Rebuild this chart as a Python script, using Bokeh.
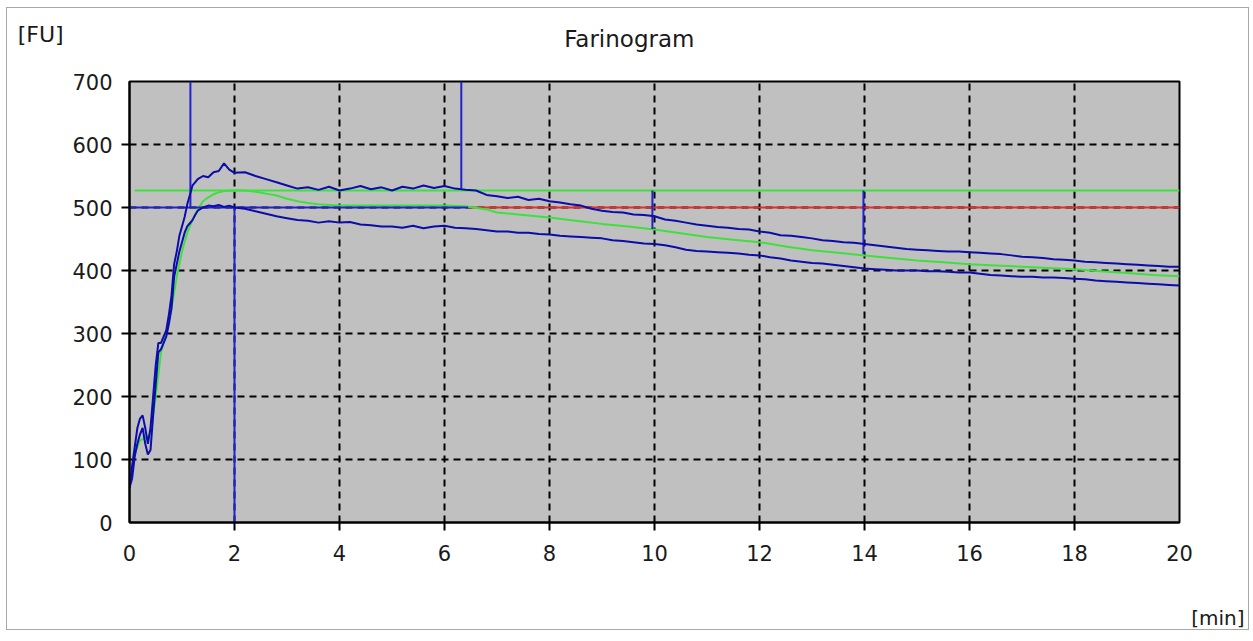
from bokeh.plotting import figure
from bokeh.models import FixedTicker, Range1d, Label
from bokeh.embed import file_html
from bokeh.resources import INLINE

# ---------------- data ----------------
x_ticks = [0, 2, 4, 6, 8, 10, 12, 14, 16, 18, 20]
x_inner = [2, 4, 6, 8, 10, 12, 14, 16, 18]
y_ticks = [0, 100, 200, 300, 400, 500, 600, 700]
y_inner = [100, 200, 300, 400, 500, 600]

rise_t = [0.0, 0.05, 0.1, 0.15, 0.2, 0.25, 0.3, 0.35, 0.4, 0.45, 0.5, 0.55, 0.6, 0.65,
          0.7, 0.75, 0.8, 0.85, 0.9, 0.95, 1.0, 1.05, 1.1, 1.15, 1.2, 1.25, 1.3, 1.4,
          1.5, 1.6, 1.7, 1.8, 1.9]
main_t = [2.0, 2.2, 2.4, 2.6, 2.8, 3.0, 3.2, 3.4, 3.6, 3.8, 4.0, 4.2, 4.4, 4.6, 4.8,
          5.0, 5.2, 5.4, 5.6, 5.8, 6.0, 6.2, 6.4, 6.6, 6.8, 7.0, 7.2, 7.4, 7.6, 7.8,
          8.0, 8.2, 8.4, 8.6, 8.8, 9.0, 9.2, 9.4, 9.6, 9.8, 10.0, 10.2, 10.4, 10.6, 10.8,
          11.0, 11.2, 11.4, 11.6, 11.8, 12.0, 12.2, 12.4, 12.6, 12.8, 13.0, 13.2, 13.4,
          13.6, 13.8, 14.0, 14.2, 14.4, 14.6, 14.8, 15.0, 15.2, 15.4, 15.6, 15.8, 16.0,
          16.2, 16.4, 16.6, 16.8, 17.0, 17.2, 17.4, 17.6, 17.8, 18.0, 18.2, 18.4, 18.6,
          18.8, 19.0, 19.2, 19.4, 19.6, 19.8, 20.0]
time_min = rise_t + main_t

upper_fu = [55, 90, 120, 150, 165, 170, 150, 125, 150, 200, 250, 285, 285, 295,
            305, 330, 360, 410, 430, 455, 470, 485, 505, 520, 535, 540, 545, 550,
            548, 556, 558, 570, 560,
            555, 556, 550, 545, 540, 535, 530, 532, 528, 533, 527, 530, 534, 529, 532,
            527, 533, 530, 535, 531, 534, 530, 528, 527, 520, 518, 515, 517, 512, 514,
            510, 508, 505, 503, 498, 495, 493, 492, 489, 488, 486, 481, 479, 476, 473,
            471, 469, 468, 466, 465, 462, 460, 456, 455, 453, 451, 448, 447,
            445, 444, 442, 440, 438, 436, 434, 433, 432, 431, 430, 430, 429,
            428, 427, 426, 424, 422, 421, 420, 418, 417, 416, 414, 413, 412,
            411, 410, 409, 408, 407, 406, 406]

lower_fu = [55, 70, 105, 125, 140, 150, 125, 108, 115, 170, 220, 270, 275, 285,
            295, 315, 340, 390, 410, 430, 445, 460, 470, 475, 480, 488, 495, 500,
            503, 502, 504, 501, 503,
            500, 498, 494, 490, 486, 483, 480, 479, 476, 478, 476, 477, 473, 472, 470,
            470, 468, 471, 467, 470, 471, 468, 467, 466, 464, 462, 462, 460, 460, 458,
            457, 455, 454, 453, 452, 451, 448, 447, 445, 443, 442, 440, 437, 433, 431,
            430, 429, 428, 427, 425, 424, 421, 419, 416, 414, 412, 411, 409,
            407, 405, 403, 402, 401, 400, 400, 400, 399, 399, 398, 397, 397,
            395, 393, 392, 391, 390, 390, 389, 389, 388, 387, 386, 384, 383,
            382, 381, 380, 379, 378, 377, 376]

median_t = [0.0, 0.1, 0.2, 0.3, 0.4, 0.5, 0.6, 0.7, 0.8, 0.9, 1.0, 1.1, 1.2, 1.3, 1.4,
            1.5, 1.6, 1.7, 1.8, 2.0, 2.2, 2.4, 2.6, 2.8, 3.0, 3.2, 3.4, 3.6, 3.8, 4.0,
            5.0, 6.0, 6.4, 6.8, 7.0, 7.5, 8.0, 8.5, 9.0, 9.5, 10.0, 10.5, 11.0, 11.5,
            12.0, 12.5, 13.0, 13.5, 14.0, 14.5, 15.0, 15.5, 16.0, 16.5, 17.0, 17.5,
            18.0, 18.5, 19.0, 19.5, 20.0]
median_fu = [60, 110, 130, 135, 140, 200, 270, 300, 340, 390, 430, 460, 480, 497, 510,
             516, 521, 524, 526, 527, 527, 525, 522, 519, 514, 510, 507, 505, 504, 503,
             503, 503, 502, 497, 492, 488, 484, 479, 474, 470, 465, 459, 453, 449,
             445, 438, 432, 428, 424, 420, 416, 413, 410, 408, 406, 404,
             402, 399, 396, 393, 391]

consistency_fu = 500
consistency_blue_t = [0.0, 6.45]
consistency_red_t = [6.45, 20.0]
band_fu = 527
band_t = [0.1, 20.0]

marker_t = [1.16, 2.0, 6.32, 9.96, 13.98]
marker_from = [500, 0, 530, 527, 527]
marker_to = [700, 500, 700, 466, 426]

title_text = "Farinogram"
y_unit = "[FU]"
x_unit = "[min]"

# ---------------- figure ----------------
font = "DejaVu Sans"
text_col = "#1a1a1a"

p = figure(width=1243, height=623, x_range=Range1d(0, 20), y_range=Range1d(0, 700),
           output_backend="svg", toolbar_location=None,
           min_border_left=122, min_border_right=71, min_border_top=73,
           min_border_bottom=109,
           background_fill_color="#c0c0c0", border_fill_color="#ffffff",
           outline_line_color="#000000", outline_line_width=2)
p.styles = {"border": "1px solid #a8a8a8", "margin-left": "6px", "margin-top": "7px"}
p.title.text = ""

for ax, ticks, inner in ((p.xaxis, x_ticks, x_inner), (p.yaxis, y_ticks, y_inner)):
    ax.ticker = FixedTicker(ticks=ticks, minor_ticks=inner)
    ax.major_tick_out = 0
    ax.major_tick_in = 0
    ax.minor_tick_out = 8
    ax.minor_tick_in = 0
    ax.minor_tick_line_width = 2
    ax.minor_tick_line_color = "#000000"
    ax.axis_line_color = "#000000"
    ax.axis_line_width = 2
    ax.major_label_text_font = font
    ax.major_label_text_font_size = "21px"
    ax.major_label_text_color = text_col
p.xaxis.major_label_standoff = 14
p.yaxis.major_label_standoff = 9

p.xgrid.ticker = FixedTicker(ticks=x_inner)
p.ygrid.ticker = FixedTicker(ticks=y_inner)
for g in (p.xgrid, p.ygrid):
    g.grid_line_color = "#000000"
    g.grid_line_width = 2
    g.grid_line_dash = "7 5"

blue = "#0c0ca8"
line_blue = "#2222cc"
green = "#3ee03e"
red = "#e0302c"

p.line(consistency_red_t, [consistency_fu] * 2, line_color=red, line_width=2)
p.line(band_t, [band_fu] * 2, line_color=green, line_width=2)
p.line(median_t, median_fu, line_color=green, line_width=2)
p.line(consistency_blue_t, [consistency_fu] * 2, line_color=line_blue, line_width=2)
p.segment(x0=marker_t, y0=marker_from, x1=marker_t, y1=marker_to,
          line_color=line_blue, line_width=2)
p.line(time_min, upper_fu, line_color=blue, line_width=2)
p.line(time_min, lower_fu, line_color=blue, line_width=2)

# texts outside the frame, placed in side panels so they are not clipped
p.add_layout(Label(x=-2.13, y=774, text=y_unit, text_font=font, text_font_size="22px",
                   text_align="left", text_baseline="alphabetic", text_color=text_col),
             "above")
p.add_layout(Label(x=9.52, y=767, text=title_text, text_font=font, text_font_size="23px",
                   text_align="center", text_baseline="alphabetic", text_color=text_col),
             "above")
p.add_layout(Label(x=21.24, y=-151, text=x_unit, text_font=font, text_font_size="20px",
                   text_align="right", text_baseline="alphabetic", text_color=text_col),
             "below")

open("out.html", "w").write(file_html(p, INLINE))
